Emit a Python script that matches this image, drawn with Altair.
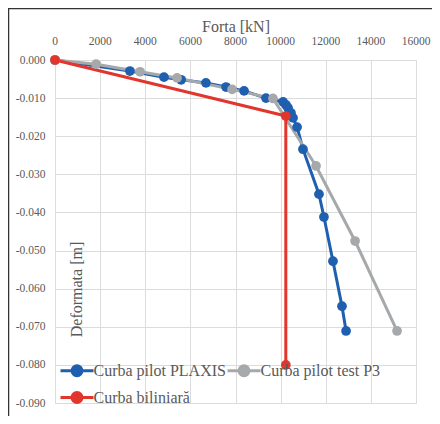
import altair as alt
import pandas as pd

series_names = ["Curba pilot PLAXIS", "Curba pilot test P3", "Curba biliniară"]
series_colors = ["#1F5FAF", "#A6A9AB", "#E2352B"]

plaxis_x = [0, 3320, 4830, 5590, 6690, 7580, 8380, 9350, 10110, 10240, 10330, 10460,
            10550, 10730, 10990, 11700, 11920, 12320, 12720, 12900]
plaxis_y = [0.0, -0.0029, -0.0045, -0.0052, -0.0060, -0.0071, -0.0081, -0.0100, -0.0110,
            -0.0118, -0.0126, -0.0139, -0.0152, -0.0176, -0.0234, -0.0352, -0.0412,
            -0.0528, -0.0646, -0.0711]
p3_x = [0, 1820, 3770, 5410, 7850, 9660, 11570, 13300, 15160]
p3_y = [0.0, -0.0011, -0.0031, -0.0047, -0.0077, -0.0101, -0.0278, -0.0475, -0.0711]
bil_x = [0, 10230, 10230]
bil_y = [0.0, -0.0147, -0.080]

x_ticks = [0, 2000, 4000, 6000, 8000, 10000, 12000, 14000, 16000]
y_ticks = [0.0, -0.01, -0.02, -0.03, -0.04, -0.05, -0.06, -0.07, -0.08, -0.09]

rows = []
for name, xs, ys in zip(series_names, [plaxis_x, p3_x, bil_x], [plaxis_y, p3_y, bil_y]):
    for i, (a, b) in enumerate(zip(xs, ys)):
        rows.append({"series": name, "forta": a, "def": b, "idx": i})
df = pd.DataFrame(rows)
tick_df = pd.DataFrame({"forta": x_ticks})

FONT = "Liberation Serif"
TXT = "#595959"

sym_path = ("M-1.65,0H1.65M-0.5,0A0.5,0.5,0,1,1,0.5,0A0.5,0.5,0,1,1,-0.5,0Z")

def make_legend():
    return alt.Legend(
        orient="none", legendX=10.5, legendY=299, columns=2, direction="horizontal",
        title=None,
        symbolType=sym_path, symbolSize=400, symbolStrokeWidth=3,
        labelFont=FONT, labelFontSize=16, labelColor=TXT, labelOffset=5,
        columnPadding=-5, rowPadding=4, padding=0,
    )

color_scale = alt.Scale(domain=series_names, range=series_colors)
x_scale = alt.Scale(domain=[0, 16000], nice=False)

x_enc = alt.X(
    "forta:Q",
    scale=x_scale,
    axis=alt.Axis(
        orient="top", values=x_ticks, title="Forta [kN]", labels=False,
        titleFont=FONT, titleFontSize=16, titleColor=TXT, titleFontWeight="normal",
        titleY=-29, titleBaseline="alphabetic",
        domain=False, ticks=False, gridColor="#DCDCDC", gridWidth=1,
    ),
)
y_enc = alt.Y(
    "def:Q",
    scale=alt.Scale(domain=[-0.09, 0], nice=False),
    axis=alt.Axis(
        values=y_ticks, title="Deformata [m]", labelFlush=False,
        labelExpr="replace(format(datum.value, '.3f'), '\u2212', '-')",
        labelFont=FONT, labelFontSize=11.5, labelColor=TXT, labelPadding=10,
        titleFont=FONT, titleFontSize=16, titleColor=TXT, titleFontWeight="normal",
        titleX=21, titleY=229, titleBaseline="middle", titleAlign="center",
        domain=False, ticks=False, gridColor="#DCDCDC", gridWidth=1,
    ),
)

lines = alt.Chart(df).mark_line(strokeWidth=3).encode(
    x=x_enc, y=y_enc,
    stroke=alt.Stroke("series:N", scale=color_scale, legend=make_legend(), sort=series_names),
    order="idx:Q",
)
points = alt.Chart(df).mark_circle(size=95, opacity=1).encode(
    x=x_enc, y=y_enc,
    fill=alt.Fill("series:N", scale=color_scale, legend=make_legend(), sort=series_names),
)

x_labels = alt.Chart(tick_df).mark_text(
    font=FONT, fontSize=11.5, color=TXT, align="center", baseline="alphabetic"
).encode(
    x=x_enc, y=alt.value(-15), text=alt.Text("forta:Q", format="d"),
)

border = alt.Chart(pd.DataFrame({"a": [0]})).mark_rect(
    fill="transparent", stroke="#333333", strokeWidth=1.5
).encode(
    x=alt.value(-46.5), x2=alt.value(420), y=alt.value(-51.5), y2=alt.value(420)
)

chart = alt.layer(lines, points, x_labels, border).properties(
    width=361, height=343,
    autosize=alt.AutoSizeParams(type="none"),
    padding={"left": 47, "top": 52, "right": 16, "bottom": 13},
    background="white",
).configure_view(stroke="#DCDCDC", strokeWidth=1)

chart.save("out.html", embed_options={"renderer": "svg", "actions": False})
